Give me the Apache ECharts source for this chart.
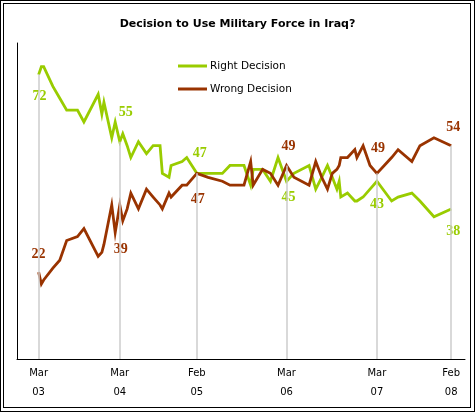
<!DOCTYPE html>
<html><head><meta charset="utf-8">
<script src="https://cdn.jsdelivr.net/npm/echarts@6/dist/echarts.min.js"></script>
<style>
html,body{margin:0;padding:0;background:#fff;}
#wrap{position:relative;width:475px;height:412px;}
#chart{position:absolute;left:0;top:0;width:475px;height:412px;}
#b1{position:absolute;left:0;top:0;width:473px;height:410px;border:1px solid #000;pointer-events:none;}
#b2{position:absolute;left:3px;top:3px;width:466px;height:403px;border:1px solid #000;pointer-events:none;}
</style></head>
<body>
<div id="wrap"><div id="chart"></div><div id="b1"></div><div id="b2"></div></div>
<script>
const dates = [
 '2003-03-20','2003-04-01','2003-04-11','2003-05-21','2003-06-20','2003-07-20','2003-09-05','2003-10-03',
 '2003-12-04','2003-12-20','2003-12-29','2004-02-01','2004-02-16','2004-03-07','2004-03-20','2004-04-08',
 '2004-04-24','2004-05-27','2004-07-01','2004-07-30','2004-08-29','2004-09-08','2004-10-07','2004-10-16',
 '2004-12-03','2004-12-23','2005-02-05','2005-03-26','2005-05-27','2005-06-29','2005-08-11','2005-08-29',
 '2005-09-27','2005-10-08','2005-11-18','2005-12-22','2006-01-24','2006-03-02','2006-04-03','2006-06-08',
 '2006-07-07','2006-08-02','2006-08-27','2006-09-17','2006-10-07','2006-10-17','2006-10-24','2006-11-22',
 '2006-12-24','2007-01-02','2007-01-29','2007-02-28','2007-03-30','2007-06-02','2007-06-30','2007-08-29',
 '2007-10-03','2007-12-03','2008-02-16'
];
const rightDecision = [
 72,74,74,69,66,63,63,60,
 67,62,65,56,60,55,57,54,
 51,55,52,54,54,47,46,49,
 50,51,47,47,47,49,49,49,
 44,48,48,45,51,45,47,49,
 43,46,49,46,43,45,41,42,
 40,40,41,43,45,40,41,42,
 40,36,38
];
const wrongDecision = [
 22,19,20,23,25,30,31,33,
 26,27,29,39,32,39,35,38,
 42,38,43,41,39,38,42,41,
 44,44,47,46,45,44,44,44,
 50,44,48,47,44,49,46,44,
 50,46,43,47,48,49,51,51,
 53,51,54,49,47,51,53,50,
 54,56,54
];
const tickDates = ['2003-03-20','2004-03-07','2005-02-05','2006-03-02','2007-03-30','2008-02-16'];
const tickMonths = ['Mar','Mar','Feb','Mar','Mar','Feb'];
const tickYears = ['03','04','05','06','07','08'];
const rightLabels = [72,55,47,45,43,38];
const wrongLabels = [22,39,47,49,49,54];

const GREEN = '#99cc00', RED = '#993300';
const rightOffsets = [[1,22],[6,-29],[3,-20],[2,16],[0,23],[2,22]];
const wrongOffsets = [[0,-18],[1,44],[1,26],[2,-19],[1,-25],[2,-18]];
const labelFont = {fontFamily:'Liberation Serif', fontWeight:'bold', fontSize:14};

const ts = d => Date.parse(d);
const tickTs = tickDates.map(ts);

function build(values, labels, offsets, color) {
  return dates.map((d, i) => {
    const k = tickDates.indexOf(d);
    const item = {value: [ts(d), values[i]]};
    if (k >= 0) {
      item.label = Object.assign({
        show: true, position: 'inside', offset: offsets[k], color: color,
        align: 'center', verticalAlign: 'middle',
        formatter: String(labels[k])
      }, labelFont);
    }
    return item;
  });
}

const dropLines = tickDates.map(d => {
  const i = dates.indexOf(d);
  const top = Math.max(rightDecision[i], wrongDecision[i]);
  return [{coord: [ts(d), top]}, {coord: [ts(d), 0]}];
});

const chart = echarts.init(document.getElementById('chart'), null, {renderer: 'canvas'});
chart.setOption({
  animation: false,
  backgroundColor: '#fff',
  title: {
    text: 'Decision to Use Military Force in Iraq?',
    left: 'center', top: 14,
    textStyle: {fontFamily: 'DejaVu Sans', fontWeight: 'bold', fontSize: 11, color: '#000'}
  },
  legend: {
    orient: 'vertical', left: 178, top: 59, itemGap: 9, padding: 0,
    itemWidth: 29, itemHeight: 3, icon: 'rect',
    data: ['Right Decision', 'Wrong Decision'],
    textStyle: {fontFamily: 'DejaVu Sans', fontSize: 10.5, color: '#000', lineHeight: 14, padding: [0, 0, 0, -2]}
  },
  grid: {left: 17, right: 10, top: 43, bottom: 53, containLabel: false},
  xAxis: {
    type: 'value',
    min: ts('2002-12-16'), max: ts('2008-04-16'),
    axisLine: {show: true, lineStyle: {color: '#000', width: 1}},
    axisTick: {show: false},
    splitLine: {show: false},
    axisLabel: {
      customValues: tickTs,
      margin: 5,
      lineHeight: 19,
      fontFamily: 'DejaVu Sans', fontSize: 10, color: '#000',
      formatter: v => {
        let k = 0, best = Infinity;
        tickTs.forEach((t, i) => { if (Math.abs(t - v) < best) { best = Math.abs(t - v); k = i; } });
        return tickMonths[k] + '\n' + tickYears[k];
      }
    }
  },
  yAxis: {
    type: 'value', min: 0, max: 80,
    axisLine: {show: true, lineStyle: {color: '#000', width: 1}},
    axisTick: {show: false}, axisLabel: {show: false}, splitLine: {show: false}
  },
  series: [
    {
      type: 'line', name: '_drops', data: [], z: 1, silent: true,
      markLine: {
        silent: true, symbol: 'none', animation: false,
        label: {show: false},
        lineStyle: {color: '#cccccc', width: 1.5, type: 'solid'},
        data: dropLines
      }
    },
    {
      type: 'line', name: 'Right Decision', z: 3,
      data: build(rightDecision, rightLabels, rightOffsets, GREEN),
      showSymbol: true, symbol: 'circle', symbolSize: 0,
      itemStyle: {color: GREEN},
      lineStyle: {color: GREEN, width: 2.8, join: 'miter'},
      emphasis: {disabled: true}
    },
    {
      type: 'line', name: 'Wrong Decision', z: 4,
      data: build(wrongDecision, wrongLabels, wrongOffsets, RED),
      showSymbol: true, symbol: 'circle', symbolSize: 0,
      itemStyle: {color: RED},
      lineStyle: {color: RED, width: 2.8, join: 'miter'},
      emphasis: {disabled: true}
    }
  ]
});
</script>
</body></html>
